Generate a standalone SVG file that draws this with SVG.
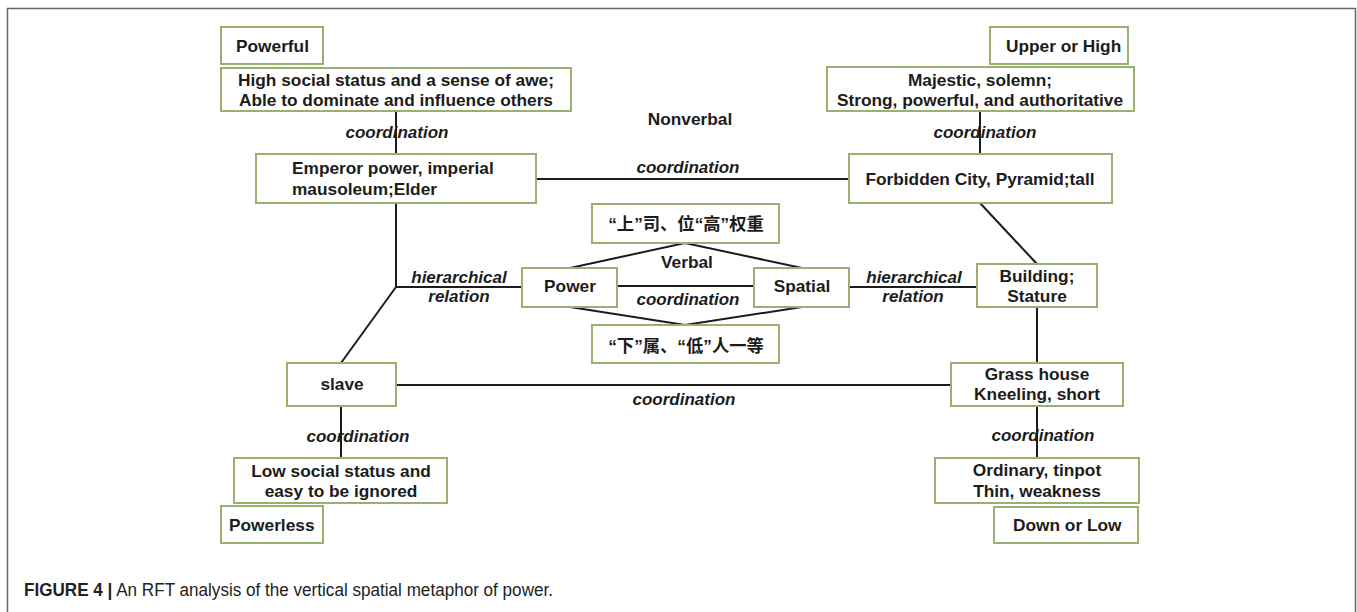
<svg xmlns="http://www.w3.org/2000/svg" width="1357" height="612" viewBox="0 0 1357 612">
<style>
.box{fill:#fff;stroke:#98b070;stroke-width:2}
.t{font-family:"Liberation Sans","Noto Sans CJK SC",Arial,sans-serif;font-weight:bold;font-size:17.3px;fill:#1c1c1c}
.c{text-anchor:middle}
.i{font-style:italic;font-size:17px}
.ln{stroke:#1c1c1c;stroke-width:2;fill:none}
.cap{font-family:"Liberation Sans",Arial,sans-serif;font-size:17.5px;fill:#222}
</style>
<rect x="0" y="0" width="1357" height="612" fill="#fff"/>
<path d="M7.5 612 V8.5 H1355.5 V612" fill="none" stroke="#666" stroke-width="1.5"/>
<g id="connectors">
<line class="ln" x1="396" y1="111" x2="396" y2="154"/>
<line class="ln" x1="980" y1="111" x2="980" y2="154"/>
<line class="ln" x1="536" y1="179" x2="849" y2="179"/>
<polyline class="ln" points="396,203 396,287 522,287"/>
<line class="ln" x1="396" y1="287" x2="341" y2="363"/>
<line class="ln" x1="617" y1="286" x2="754" y2="286"/>
<line class="ln" x1="849" y1="287" x2="977" y2="287"/>
<line class="ln" x1="980" y1="203" x2="1037" y2="264"/>
<line class="ln" x1="1037" y1="307" x2="1037" y2="363"/>
<line class="ln" x1="396" y1="385" x2="951" y2="385"/>
<line class="ln" x1="341" y1="406" x2="341" y2="458"/>
<line class="ln" x1="1037" y1="406" x2="1037" y2="458"/>
<polyline class="ln" points="570,268 685,243 802,268"/>
<polyline class="ln" points="570,307 685,325 802,307"/>
<text class="t c i" x="397" y="138">coordination</text>
<text class="t c i" x="985" y="138">coordination</text>
<text class="t c i" x="688" y="173">coordination</text>
<text class="t c i" x="459" y="283">hierarchical</text>
<text class="t c i" x="459" y="302">relation</text>
<text class="t c i" x="914" y="283">hierarchical</text>
<text class="t c i" x="913" y="302">relation</text>
<text class="t c i" x="688" y="305">coordination</text>
<text class="t c i" x="684" y="405">coordination</text>
<text class="t c i" x="358" y="442">coordination</text>
<text class="t c i" x="1043" y="441">coordination</text>
<text class="t c" x="690" y="125">Nonverbal</text>
<text class="t c" x="687" y="268">Verbal</text>
</g>
<g id="powerful"><rect class="box" x="221" y="27" width="102" height="37"/><text class="t" x="236" y="52">Powerful</text></g>
<g id="high-social"><rect class="box" x="221" y="68" width="350" height="43"/><text class="t c" x="396" y="86">High social status and a sense of awe;</text><text class="t c" x="396" y="106">Able to dominate and influence others</text></g>
<g id="emperor"><rect class="box" x="256" y="154" width="280" height="49"/><text class="t" x="292" y="174">Emperor power, imperial</text><text class="t" x="292" y="195">mausoleum;Elder</text></g>
<g id="upper"><rect class="box" x="990" y="27" width="138" height="37"/><text class="t" x="1006" y="52">Upper or High</text></g>
<g id="majestic"><rect class="box" x="827" y="67" width="307" height="44"/><text class="t c" x="980" y="86">Majestic, solemn;</text><text class="t c" x="980" y="106">Strong, powerful, and authoritative</text></g>
<g id="forbidden"><rect class="box" x="849" y="154" width="263" height="49"/><text class="t c" x="980" y="185">Forbidden City, Pyramid;tall</text></g>
<g id="verbal-high"><rect class="box" x="592" y="204" width="187" height="39"/><text class="t c" x="686" y="230">“上”司、位“高”权重</text></g>
<g id="power"><rect class="box" x="522" y="268" width="95" height="39"/><text class="t c" x="570" y="292">Power</text></g>
<g id="spatial"><rect class="box" x="754" y="268" width="95" height="39"/><text class="t c" x="802" y="292">Spatial</text></g>
<g id="building"><rect class="box" x="977" y="264" width="120" height="43"/><text class="t c" x="1037" y="282">Building;</text><text class="t c" x="1037" y="302">Stature</text></g>
<g id="verbal-low"><rect class="box" x="592" y="325" width="187" height="38"/><text class="t c" x="686" y="352">“下”属、“低”人一等</text></g>
<g id="slave"><rect class="box" x="287" y="363" width="109" height="43"/><text class="t c" x="342" y="390">slave</text></g>
<g id="grass"><rect class="box" x="951" y="363" width="172" height="43"/><text class="t c" x="1037" y="380">Grass house</text><text class="t c" x="1037" y="400">Kneeling, short</text></g>
<g id="low-social"><rect class="box" x="234" y="458" width="213" height="45"/><text class="t c" x="341" y="477">Low social status and</text><text class="t c" x="341" y="497">easy to be ignored</text></g>
<g id="ordinary"><rect class="box" x="935" y="458" width="204" height="45"/><text class="t c" x="1037" y="476">Ordinary, tinpot</text><text class="t c" x="1037" y="497">Thin, weakness</text></g>
<g id="powerless"><rect class="box" x="221" y="506" width="102" height="37"/><text class="t" x="229" y="531">Powerless</text></g>
<g id="down"><rect class="box" x="994" y="507" width="144" height="36"/><text class="t" x="1013" y="531">Down or Low</text></g>
<text class="cap" x="24" y="596" textLength="529" lengthAdjust="spacingAndGlyphs"><tspan font-weight="bold">FIGURE 4 |</tspan> An RFT analysis of the vertical spatial metaphor of power.</text>
</svg>
